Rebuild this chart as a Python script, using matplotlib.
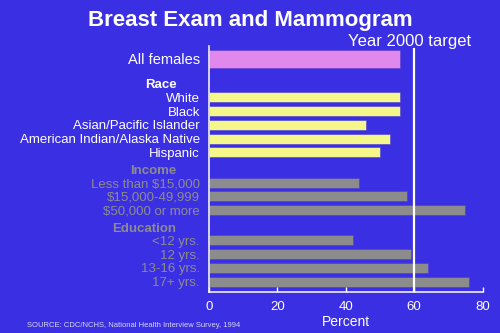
import numpy as np
import matplotlib
matplotlib.use("Agg")
import matplotlib.pyplot as plt

plt.rcParams['font.family'] = ['Liberation Sans', 'DejaVu Sans']

# data
overall_label = "All females"
overall_value = 56

race_labels = ["White", "Black", "Asian/Pacific Islander",
               "American Indian/Alaska Native", "Hispanic"]
race_values = [56, 56, 46, 53, 50]

income_labels = ["Less than $15,000", "$15,000-49,999", "$50,000 or more"]
income_values = [44, 58, 75]

edu_labels = ["<12 yrs.", "12 yrs.", "13-16 yrs.", "17+ yrs."]
edu_values = [42, 59, 64, 76]

target = 60
xticks = [0, 20, 40, 60, 80]

BG = '#3b2fe4'
PINK = '#e088ec'
YELLOW = '#f5f78a'
GRAY = '#8c8c8c'

fig = plt.figure(figsize=(5, 3.33), dpi=100, facecolor=BG)
ax = fig.add_axes([0.418, 0.124, 0.547, 0.738])
ax.set_facecolor(BG)

groups = [("Race", race_labels, race_values, YELLOW, 'white'),
          ("Income", income_labels, income_values, GRAY, GRAY),
          ("Education", edu_labels, edu_values, GRAY, GRAY)]

ax.barh(0, overall_value, height=1.33, color=PINK, edgecolor='#5a3ad0', lw=0.4)
ax.text(-2.7, 0, overall_label, ha='right', va='center_baseline', color='white',
        fontsize=10.5, clip_on=False)

last = 0
for i, (head, labels, values, col, tcol) in enumerate(groups):
    hy = last + (1.85 if i == 0 else 1.25)
    ax.text(-9.5, hy, head, ha='right', va='center_baseline', color=tcol,
            fontsize=9.5, fontweight='bold', clip_on=False)
    ys = hy + 1.0 + 1.02 * np.arange(len(values))
    ax.barh(ys, values, height=0.74, color=col, edgecolor='#4a3ad8', lw=0.4)
    for y, lab in zip(ys, labels):
        ax.text(-2.7, y, lab, ha='right', va='center_baseline', color=tcol,
                fontsize=9.5, clip_on=False)
    last = ys[-1]

ax.set_ylim(last + 0.74, -0.96)
ax.set_xlim(0, 80)
ax.axvline(target, ymax=1 - 3 / 245.7, color='white', lw=1.6)

for s in ['top', 'right']:
    ax.spines[s].set_visible(False)
for s in ['left', 'bottom']:
    ax.spines[s].set_color('white')
    ax.spines[s].set_linewidth(1.1)
ax.set_yticks([])
ax.set_xticks(xticks)
ax.tick_params(axis='x', direction='in', length=3.5, width=1, color='white',
               labelcolor='white', labelsize=9.5, pad=7)
ax.set_xlabel("Percent", color='white', fontsize=10, labelpad=1)

fig.text(0.5, 0.946, "Breast Exam and Mammogram", ha='center', va='center_baseline',
         color='white', fontsize=16, fontweight='bold')
fig.text(0.82, 0.88, "Year 2000 target", ha='center', va='center_baseline',
         color='white', fontsize=12)
fig.text(0.054, 0.024, "SOURCE: CDC/NCHS, National Health Interview Survey, 1994",
         ha='left', va='center', color='#d8d8f0', fontsize=5.5)

fig.savefig("out.png", dpi=100, facecolor=BG)
